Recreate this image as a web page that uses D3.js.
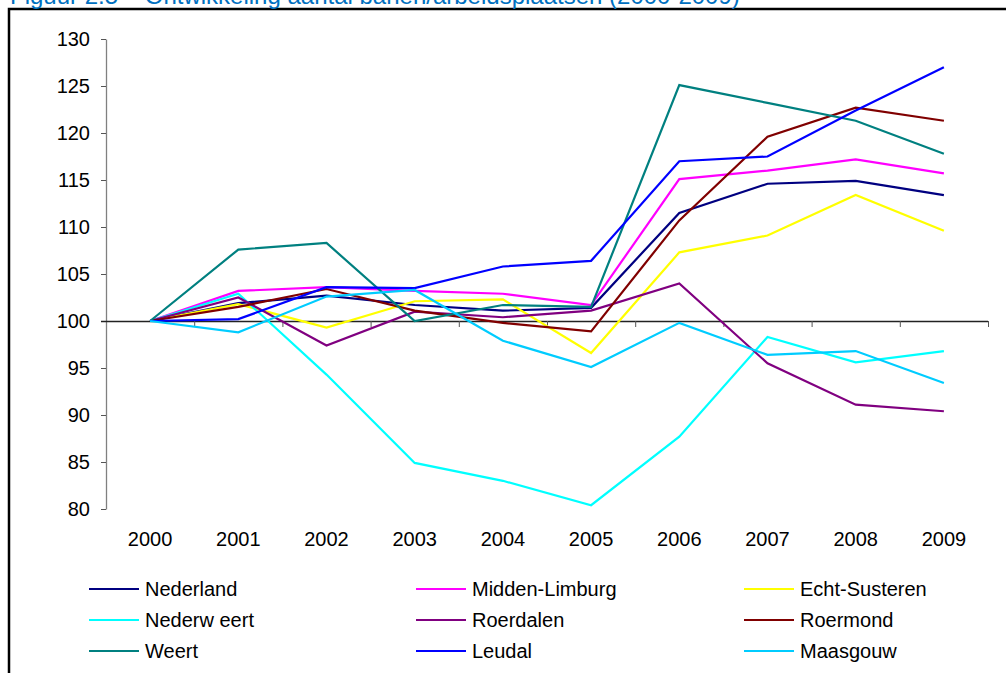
<!DOCTYPE html>
<html>
<head>
<meta charset="utf-8">
<script src="https://cdn.jsdelivr.net/npm/d3@7"></script>
<style>
  html, body { margin: 0; padding: 0; background: #fff; overflow: hidden; }
  svg { display: block; font-family: Arial, "Liberation Sans", sans-serif; }
</style>
</head>
<body>
<svg id="chart" width="1006" height="673"></svg>
<script>
// Index figures of jobs per municipality, 2000 = 100
const years = [2000, 2001, 2002, 2003, 2004, 2005, 2006, 2007, 2008, 2009];
const yTicks = [80, 85, 90, 95, 100, 105, 110, 115, 120, 125, 130];

const nederland     = [100, 101.9, 102.7, 101.7, 101.1, 101.4, 111.5, 114.6, 114.9, 113.4];
const middenLimburg = [100, 103.2, 103.6, 103.2, 102.9, 101.7, 115.1, 116.0, 117.2, 115.7];
const echtSusteren  = [100, 101.8,  99.3, 102.1, 102.3,  96.6, 107.3, 109.1, 113.4, 109.6];
const nederweert    = [100, 102.9,  94.3,  84.9,  83.0,  80.4,  87.7,  98.3,  95.6,  96.8];
const roerdalen     = [100, 102.5,  97.4, 101.0, 100.4, 101.1, 104.0,  95.5,  91.1,  90.4];
const roermond      = [100, 101.5, 103.4, 101.1,  99.8,  98.9, 110.7, 119.6, 122.7, 121.3];
const weert         = [100, 107.6, 108.3, 100.0, 101.7, 101.5, 125.1, 123.2, 121.3, 117.8];
const leudal        = [100, 100.2, 103.6, 103.5, 105.8, 106.4, 117.0, 117.5, 122.4, 127.0];
const maasgouw      = [100,  98.8, 102.6, 103.3,  97.9,  95.1,  99.8,  96.4,  96.8,  93.4];

const seriesNames  = ["Nederland", "Midden-Limburg", "Echt-Susteren", "Nederw eert", "Roerdalen", "Roermond", "Weert", "Leudal", "Maasgouw"];
const seriesValues = [nederland, middenLimburg, echtSusteren, nederweert, roerdalen, roermond, weert, leudal, maasgouw];
const seriesColors = ["#000080", "#FF00FF", "#FFFF00", "#00FFFF", "#800080", "#800000", "#008080", "#0000FF", "#00CCFF"];

const svg = d3.select("#chart");

// outer frame (top and left edges visible)
svg.append("path")
  .attr("d", "M9,673 V9 H1006")
  .attr("fill", "none")
  .attr("stroke", "#000")
  .attr("stroke-width", 2.5);

// figure caption
svg.append("text")
  .attr("x", 10).attr("y", 4)
  .attr("font-size", 24)
  .attr("fill", "#0070C0")
  .text("Figuur 2.5 \u2013 Ontwikkeling aantal banen/arbeidsplaatsen (2000-2009)");

const plotLeft = 106, plotRight = 988, plotTop = 39, plotBottom = 509;

const x = d3.scaleBand().domain(years).range([plotLeft, plotRight]).padding(0);
const xc = d => x(d) + x.bandwidth() / 2;
const y = d3.scaleLinear().domain([80, 130]).range([plotBottom, plotTop]);

// y axis
const yAxis = svg.append("g")
  .attr("transform", `translate(${plotLeft},0)`)
  .call(d3.axisLeft(y).tickValues(yTicks).tickSize(5).tickPadding(11).tickSizeOuter(0));
yAxis.select(".domain").attr("stroke", "#808080").attr("stroke-width", 1.3);
yAxis.selectAll(".tick line").attr("stroke", "#555");
yAxis.selectAll(".tick text")
  .attr("font-size", 20)
  .attr("font-family", "Arial, 'Liberation Sans', sans-serif")
  .attr("fill", "#000");

// horizontal category axis crossing at 100, ticks between categories
const boundary = d3.scaleLinear().domain([0, years.length]).range([plotLeft, plotRight]);
const xAxis = svg.append("g")
  .attr("transform", `translate(0,${y(100)})`)
  .call(d3.axisBottom(boundary).tickValues(d3.range(1, years.length + 1)).tickSize(6).tickSizeOuter(0).tickFormat(""));
xAxis.select(".domain").attr("stroke", "#222").attr("stroke-width", 1.3)
  .attr("d", `M${plotLeft - 5},0.5H${plotRight}`);
xAxis.selectAll(".tick line").attr("stroke", "#555");

// category labels at the bottom of the plot
const xLabels = svg.append("g")
  .attr("transform", `translate(0,${plotBottom})`)
  .call(d3.axisBottom(x).tickSize(0).tickPadding(23));
xLabels.select(".domain").remove();
xLabels.selectAll(".tick text")
  .attr("font-size", 20)
  .attr("font-family", "Arial, 'Liberation Sans', sans-serif")
  .attr("fill", "#000");

// series lines
const line = d3.line().x((d, i) => xc(years[i])).y(d => y(d));
svg.append("g").selectAll("path")
  .data(seriesValues)
  .join("path")
  .attr("d", d => line(d))
  .attr("fill", "none")
  .attr("stroke", (d, i) => seriesColors[i])
  .attr("stroke-width", 2.2)
  .attr("stroke-linejoin", "miter");

// legend: three columns, three rows
const legendCols = [89, 416, 744];
const legendRows = [589, 620, 651];
const legend = svg.append("g").selectAll("g")
  .data(seriesNames)
  .join("g")
  .attr("transform", (d, i) => `translate(${legendCols[i % 3]},${legendRows[Math.floor(i / 3)]})`);
legend.append("line")
  .attr("x1", 0).attr("x2", 50)
  .attr("y1", 0).attr("y2", 0)
  .attr("stroke", (d, i) => seriesColors[i])
  .attr("stroke-width", 2.2);
legend.append("text")
  .attr("x", 56).attr("y", 7)
  .attr("font-size", 20)
  .attr("fill", "#000")
  .text(d => d);
</script>
</body>
</html>
